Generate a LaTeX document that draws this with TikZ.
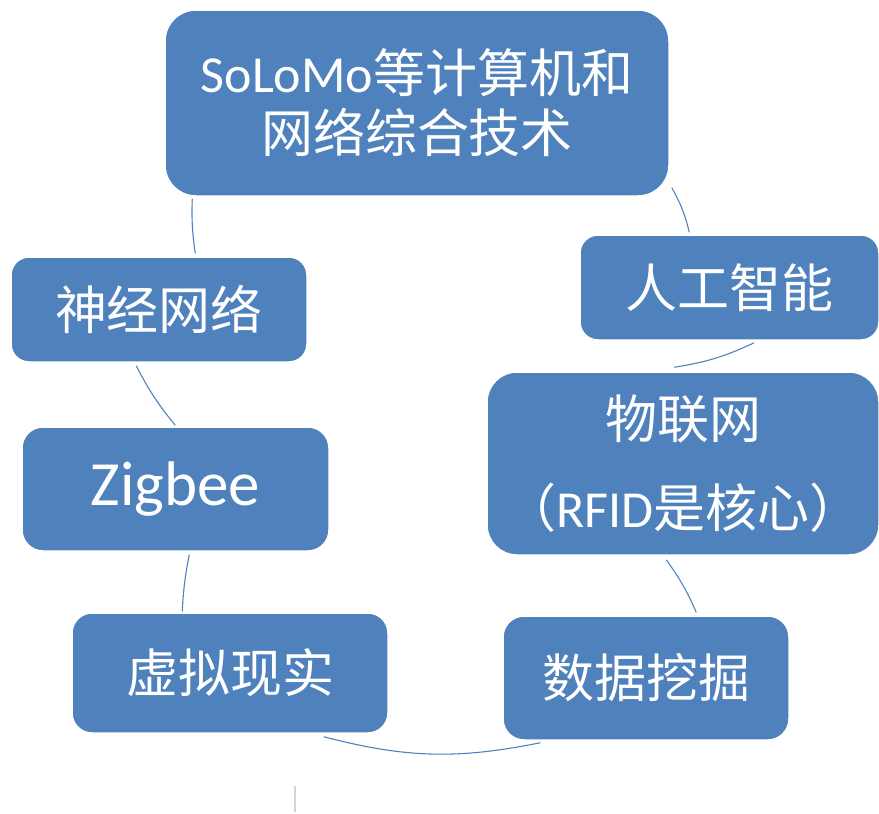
\documentclass[tikz,border=0pt]{standalone}
\usepackage{fontspec}
\setmainfont{Carlito}
\newfontfamily\cjk{Noto Sans CJK SC}
\usetikzlibrary{calc}
\definecolor{boxblue}{HTML}{4F81BD}
\definecolor{cursorgray}{HTML}{D4D4D4}
\begin{document}
\begin{tikzpicture}[x=1pt,y=-1pt,
  box/.style={draw=white, line width=1.5pt, fill=boxblue, text=white, align=center,
    inner sep=0pt, font=\fontsize{52}{60}\selectfont},
  link/.style={draw=boxblue, line width=1.1pt}]
\useasboundingbox (0,0) rectangle (879,814);
% boxes
\node[box, minimum width=504, minimum height=186, rounded corners=31] (top) at (417,103)
  {SoLoMo{\cjk 等计算机和}\\{\cjk 网络综合技术}};
\node[box, minimum width=299, minimum height=105, rounded corners=18] (ai) at (729.5,287.5)
  {{\cjk 人工智能}};
\node[box, minimum width=392, minimum height=183, rounded corners=30] (iot) at (683,463.5)
  {{\cjk 物联网}\\[29pt]{\cjk （}RFID{\cjk 是核心）}};
\node[box, minimum width=286, minimum height=124, rounded corners=21] (dm) at (646,678)
  {{\cjk 数据挖掘}};
\node[box, minimum width=316, minimum height=120, rounded corners=20] (vr) at (230,673)
  {{\cjk 虚拟现实}};
\node[box, minimum width=307, minimum height=124, rounded corners=21] (zb) at (175.5,489)
  {\fontsize{63}{70}\selectfont Zigbee};
\node[box, minimum width=296, minimum height=105, rounded corners=18] (nn) at (159,309.5)
  {{\cjk 神经网络}};
% connectors (clockwise)
\draw[link] ($(top.south east)+(2,-9)$) to[bend left=8] ($(ai.north west)+(110,-2)$);
\draw[link] ($(ai.south west)+(175,2)$) to[bend left=8] ($(iot.north west)+(188,-4)$);
\draw[link] ($(iot.south west)+(180,4)$) to[bend left=6] ($(dm.north west)+(194,-3)$);
\draw[link] ($(dm.south west)+(38,2)$) to[bend left=13] ($(vr.south east)+(-65,3)$);
\draw[link] ($(vr.north west)+(111,-1)$) to[bend left=4] ($(zb.south west)+(168,3)$);
\draw[link] ($(zb.north west)+(154,-1)$) to[bend left=6] ($(nn.south west)+(126,3)$);
\draw[link] ($(nn.north west)+(185,-3)$) to[bend left=5] ($(top.south west)+(28,2)$);
% text cursor mark
\coordinate (cursorA) at (295,786);
\coordinate (cursorB) at (295,812);
\draw[cursorgray, line width=1.5pt] (cursorA) -- (cursorB);
\end{tikzpicture}
\end{document}
